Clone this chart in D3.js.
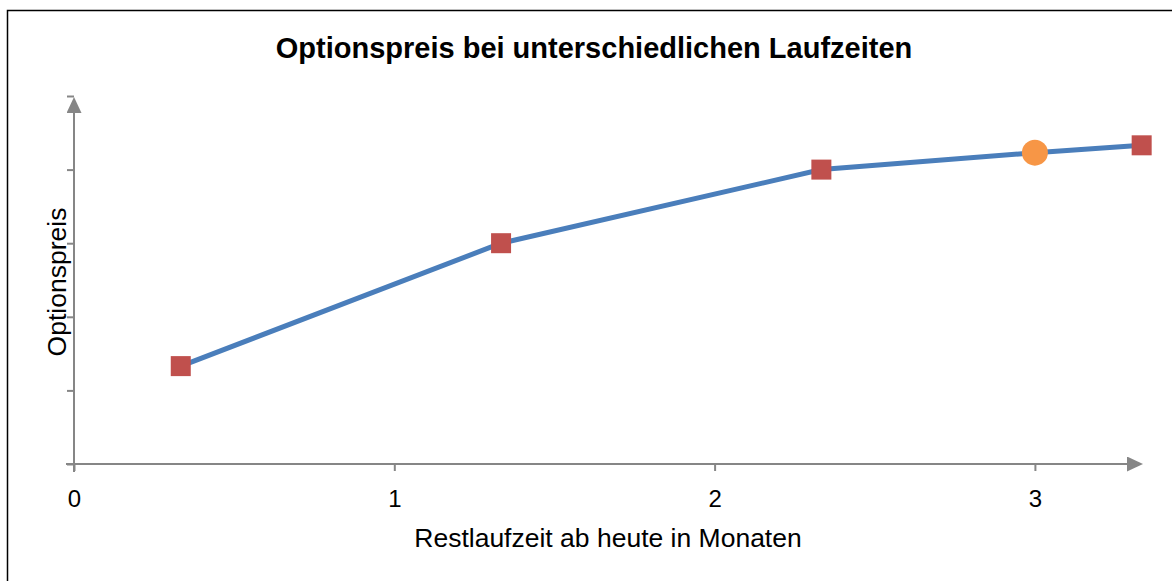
<!DOCTYPE html>
<html>
<head>
<meta charset="utf-8">
<script src="https://cdn.jsdelivr.net/npm/d3@7"></script>
<style>
  body { margin: 0; background: #fff; }
  svg, svg text { font-family: "Liberation Sans", Arial, sans-serif; }
</style>
</head>
<body>
<div id="chart"></div>
<script>
// Restlaufzeit in Monaten und Optionspreis (ohne Skala)
let laufzeiten = [1/3, 4/3, 7/3, 3, 10/3];
let preise = [1.33, 3.0, 4.0, 4.23, 4.33];
let markerArt = ['square', 'square', 'square', 'circle', 'square'];
let xTicks = [0, 1, 2, 3];
let yTicks = [0, 1, 2, 3, 4, 5];

let width = 1172;
let height = 581;
let margin = { left: 74, top: 96, right: 30, bottom: 117 };

let x = d3.scaleLinear().domain([0, 10/3]).range([margin.left, margin.left + 320.3 * 10/3]);
let y = d3.scaleLinear().domain([0, 5]).range([height - margin.bottom, margin.top]);

let svg = d3.select('#chart')
    .append('svg')
    .attr('width', width)
    .attr('height', height);

// Rahmen
svg.append('rect')
    .attr('x', 7.5).attr('y', 10.5)
    .attr('width', width).attr('height', height)
    .attr('fill', 'none')
    .attr('stroke', '#000')
    .attr('stroke-width', 1.5);

let defs = svg.append('defs');
defs.append('marker')
    .attr('id', 'pfeil')
    .attr('viewBox', '0 0 10 10')
    .attr('refX', 0).attr('refY', 5)
    .attr('markerWidth', 16).attr('markerHeight', 15)
    .attr('markerUnits', 'userSpaceOnUse')
    .attr('orient', 'auto')
    .attr('preserveAspectRatio', 'none')
    .append('path')
    .attr('d', 'M0,0 L10,5 L0,10 Z')
    .attr('fill', '#868686');

// Achsen
let xAxis = svg.append('g')
    .attr('transform', 'translate(0,' + y(0) + ')')
    .call(d3.axisBottom(x).tickValues(xTicks).tickSize(7).tickFormat(d3.format('d')));
let yAxis = svg.append('g')
    .attr('transform', 'translate(' + x(0) + ',0)')
    .call(d3.axisLeft(y).tickValues(yTicks).tickSize(7).tickFormat(''));

[xAxis, yAxis].forEach(function(ax) {
    ax.attr('font-family', null);
    ax.select('.domain').remove();
    ax.selectAll('.tick line').attr('stroke', '#868686').attr('stroke-width', 2);
});
xAxis.selectAll('.tick text')
    .attr('font-size', 24)
    .attr('fill', '#000')
    .attr('y', 43)
    .attr('dy', null);

svg.append('line')
    .attr('x1', x(0) - 8).attr('y1', y(0))
    .attr('x2', 1127).attr('y2', y(0))
    .attr('stroke', '#868686').attr('stroke-width', 2)
    .attr('marker-end', 'url(#pfeil)');
svg.append('line')
    .attr('x1', x(0)).attr('y1', y(0) + 8)
    .attr('x2', x(0)).attr('y2', y(5) + 17)
    .attr('stroke', '#868686').attr('stroke-width', 2)
    .attr('marker-end', 'url(#pfeil)');

// Linie
let data = laufzeiten.map(function(d, i) {
    return { t: d, p: preise[i], art: markerArt[i] };
});
let line = d3.line()
    .x(function(d) { return x(d.t); })
    .y(function(d) { return y(d.p); });

svg.append('path')
    .datum(data)
    .attr('d', line)
    .attr('fill', 'none')
    .attr('stroke', '#4a7ebb')
    .attr('stroke-width', 5);

svg.selectAll('rect.pkt')
    .data(data.filter(function(d) { return d.art === 'square'; }))
    .enter().append('rect')
    .attr('class', 'pkt')
    .attr('x', function(d) { return x(d.t) - 10; })
    .attr('y', function(d) { return y(d.p) - 10; })
    .attr('width', 20).attr('height', 20)
    .attr('fill', '#c0504d');

svg.selectAll('circle.pkt')
    .data(data.filter(function(d) { return d.art === 'circle'; }))
    .enter().append('circle')
    .attr('class', 'pkt')
    .attr('cx', function(d) { return x(d.t); })
    .attr('cy', function(d) { return y(d.p); })
    .attr('r', 13)
    .attr('fill', '#f79646');

// Beschriftungen
svg.append('text')
    .attr('x', 594).attr('y', 58)
    .attr('text-anchor', 'middle')
    .attr('font-size', 29)
    .attr('font-weight', 'bold')
    .text('Optionspreis bei unterschiedlichen Laufzeiten');

svg.append('text')
    .attr('x', 608).attr('y', 547)
    .attr('text-anchor', 'middle')
    .attr('font-size', 26.5)
    .text('Restlaufzeit ab heute in Monaten');

svg.append('text')
    .attr('transform', 'translate(66,282) rotate(-90)')
    .attr('text-anchor', 'middle')
    .attr('font-size', 26.5)
    .text('Optionspreis');
</script>
</body>
</html>
